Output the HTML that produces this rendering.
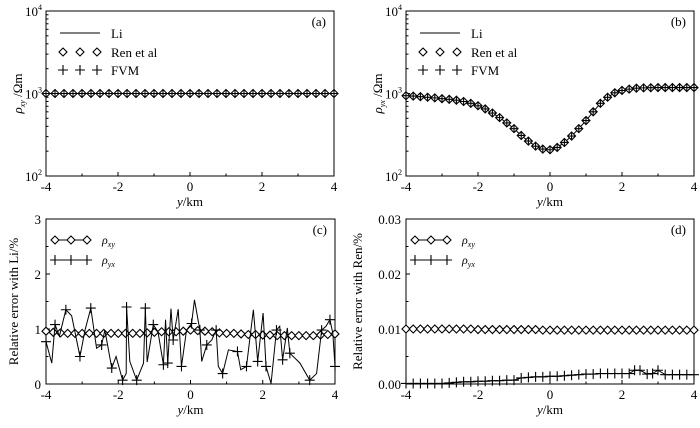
<!DOCTYPE html>
<html><head><meta charset="utf-8">
<style>
html,body{margin:0;padding:0;background:#fff;}
svg, svg text{font-family:"Liberation Serif","DejaVu Serif",serif;}
text{fill:#000;}
</style></head>
<body>
<svg id="fig" width="700" height="423" viewBox="0 0 700 423" xmlns="http://www.w3.org/2000/svg" font-family="Liberation Serif, DejaVu Serif, serif"></svg>
<script>
// ---------- data ----------
const xA = [];
for (let i = 0; i <= 32; i++) xA.push(-4 + i * 0.25);
const rhoXyA = [1000,1000,1000,1000,1000,1000,1000,1000,1000,1000,1000,1000,1000,1000,1000,1000,1000,1000,1000,1000,1000,1000,1000,1000,1000,1000,1000,1000,1000,1000,1000,1000,1000];

const xB = [-4,-3.8,-3.6,-3.4,-3.2,-3,-2.8,-2.6,-2.4,-2.2,-2,-1.8,-1.6,-1.4,-1.2,-1,-0.8,-0.6,-0.4,-0.2,0,0.2,0.4,0.6,0.8,1,1.2,1.4,1.6,1.8,2,2.2,2.4,2.6,2.8,3,3.2,3.4,3.6,3.8,4];
const rhoYxB = [940,930,915,900,885,865,850,830,800,760,710,650,580,510,440,375,310,265,230,212,208,222,255,305,375,470,600,760,900,1020,1090,1130,1160,1170,1175,1180,1180,1180,1180,1180,1180];

const xCyx = [-4,-3.84,-3.75,-3.63,-3.45,-3.29,-3.06,-2.92,-2.76,-2.6,-2.46,-2.37,-2.18,-2.06,-1.88,-1.78,-1.77,-1.68,-1.49,-1.3,-1.25,-1.2,-1.03,-0.9,-0.75,-0.69,-0.63,-0.54,-0.48,-0.34,-0.25,-0.11,0.03,0.11,0.26,0.31,0.45,0.59,0.71,0.77,0.89,1.05,1.3,1.39,1.55,1.74,1.86,2.01,2.09,2.23,2.38,2.47,2.55,2.68,2.75,3.03,3.3,3.49,3.63,3.75,3.86,3.94,4];
const errYxC = [0.77,0.38,1.08,0.87,1.35,1.24,0.5,0.98,1.38,0.65,0.71,0.98,0.29,0.5,0.07,0.19,1.4,0.41,0.07,0.38,1.38,0.4,1.08,0.95,0.35,1.17,0.38,1.37,0.8,1.36,0.32,0.98,1.1,1.53,0.98,0.41,0.71,0.8,0.98,0.32,0.19,0.62,0.59,0.26,0.32,1.35,0.41,1.29,0.32,0.01,0.98,1.05,0.44,1.02,0.56,0.38,0.07,0.19,0.98,1.05,1.17,0.92,0.32];
const xCxy = [-4,-3.8,-3.6,-3.4,-3.2,-3,-2.8,-2.6,-2.4,-2.2,-2,-1.8,-1.6,-1.4,-1.2,-1,-0.8,-0.6,-0.4,-0.2,0,0.2,0.4,0.6,0.8,1,1.2,1.4,1.6,1.8,2,2.2,2.4,2.6,2.8,3,3.2,3.4,3.6,3.8,4];
const errXyC = [0.96,0.94,0.93,0.92,0.92,0.92,0.92,0.92,0.92,0.92,0.92,0.92,0.92,0.92,0.93,0.94,0.95,0.95,0.95,0.96,0.98,0.97,0.96,0.95,0.93,0.92,0.92,0.91,0.9,0.9,0.89,0.89,0.88,0.88,0.88,0.88,0.88,0.88,0.89,0.9,0.91];

const xDxy = [-4,-3.8,-3.6,-3.4,-3.2,-3,-2.8,-2.6,-2.4,-2.2,-2,-1.8,-1.6,-1.4,-1.2,-1,-0.8,-0.6,-0.4,-0.2,0,0.2,0.4,0.6,0.8,1,1.2,1.4,1.6,1.8,2,2.2,2.4,2.6,2.8,3,3.2,3.4,3.6,3.8,4];
const errXyD = [0.0100,0.0100,0.0100,0.0100,0.0100,0.0100,0.0100,0.0100,0.0100,0.0100,0.0099,0.0099,0.0099,0.0099,0.0099,0.0099,0.0099,0.0099,0.0099,0.0098,0.0098,0.0098,0.0098,0.0098,0.0098,0.0098,0.0098,0.0098,0.0098,0.0098,0.0098,0.0098,0.0098,0.0098,0.0098,0.0098,0.0098,0.0098,0.0098,0.0098,0.0098];
const xD = [-4,-3.8,-3.6,-3.4,-3.2,-3,-2.8,-2.6,-2.4,-2.2,-2,-1.8,-1.6,-1.4,-1.2,-1,-0.8,-0.6,-0.4,-0.2,0,0.2,0.4,0.6,0.8,1,1.2,1.4,1.6,1.8,2,2.2,2.35,2.5,2.7,2.85,3,3.2,3.4,3.6,3.8,4];
const errYxD = [0.0001,0.0001,0.0001,0.0001,0.0001,0.0001,0.0002,0.0003,0.0004,0.0004,0.0005,0.0005,0.0006,0.0006,0.0007,0.0007,0.0011,0.0012,0.0013,0.0013,0.0014,0.0014,0.0015,0.0016,0.0017,0.0018,0.0018,0.0019,0.0019,0.0019,0.0019,0.0019,0.0025,0.0025,0.0018,0.0019,0.0025,0.0017,0.0017,0.0017,0.0017,0.0017];

const xTicks = [-4,-2,0,2,4];
const xTickLabels = ["-4","-2","0","2","4"];

// ---------- helpers ----------
const NS = "http://www.w3.org/2000/svg";
const svg = document.getElementById("fig");
const FF = "Liberation Serif, DejaVu Serif, serif";
function el(tag, attrs, parent) {
  const e = document.createElementNS(NS, tag);
  for (const k in attrs) e.setAttribute(k, attrs[k]);
  if (tag === "text") e.setAttribute("font-family", FF);
  (parent || svg).appendChild(e);
  return e;
}
function diamond(g, cx, cy, r) {
  return el("path", {d:`M${cx} ${cy-r}L${cx+r} ${cy}L${cx} ${cy+r}L${cx-r} ${cy}Z`, fill:"#fff", stroke:"#000", "stroke-width":1.1}, g);
}
function plus(g, cx, cy, r) {
  return el("path", {d:`M${cx-r} ${cy}H${cx+r}M${cx} ${cy-r}V${cy+r}`, stroke:"#000", "stroke-width":1.1, fill:"none"}, g);
}

function panel(p) {
  const g = el("g", {});
  
  
  const X = v => p.x0 + (v + 4) / 8 * (p.x1 - p.x0);
  const Y = p.log
    ? v => p.y1 - (Math.log10(v) - 2) / 2 * (p.y1 - p.y0)
    : v => p.y1 - v / p.ymax * (p.y1 - p.y0);
  p.X = X; p.Y = Y; p.g = g;
  const fr = el("rect", {x:p.x0, y:p.y0, width:p.x1-p.x0, height:p.y1-p.y0, fill:"none", stroke:"#000", "stroke-width":1}, g);
  
  
  for (let v = -4; v <= 4; v++) {
    const len = v % 2 === 0 ? 4 : 2.5;
    el("line", {x1:X(v), x2:X(v), y1:p.y1, y2:p.y1-len, stroke:"#000", "stroke-width":1}, g);
  }
  xTicks.forEach((v, i) => {
    const t = el("text", {x:X(v), y:p.y1+15, "font-size":13, "text-anchor":"middle"}, g);
    t.textContent = xTickLabels[i];
    
    
  });
  const xt = el("text", {x:(p.x0+p.x1)/2, y:p.y1+30, "font-size":13, "text-anchor":"middle"}, g);
  xt.innerHTML = '<tspan font-style="italic">y</tspan>/km';
  
  
  if (p.log) {
    [2,3,4].forEach(e => {
      const yy = Y(Math.pow(10, e));
      el("line", {x1:p.x0, x2:p.x0+4, y1:yy, y2:yy, stroke:"#000"}, g);
      const t = el("text", {x:p.x0-4, y:yy+5, "font-size":13, "text-anchor":"end"}, g);
      t.innerHTML = '10<tspan font-size="8" dy="-6">' + e + '</tspan>';
      
      
    });
    [100,1000].forEach(b => { for (let m = 2; m <= 9; m++) {
      const yy = Y(b*m);
      el("line", {x1:p.x0, x2:p.x0+2.5, y1:yy, y2:yy, stroke:"#000"}, g);
    }});
  } else {
    p.yTicks.forEach((v, i) => {
      const yy = Y(v);
      el("line", {x1:p.x0, x2:p.x0+4, y1:yy, y2:yy, stroke:"#000"}, g);
      const t = el("text", {x:p.x0-5, y:yy+5, "font-size":13, "text-anchor":"end"}, g);
      t.textContent = p.yLabels[i];
      
      
      if (i < p.yTicks.length - 1) {
        const ym = Y((v + p.yTicks[i+1]) / 2);
        el("line", {x1:p.x0, x2:p.x0+2.5, y1:ym, y2:ym, stroke:"#000"}, g);
      }
    });
  }
  const yt = el("text", {x:0, y:0, "font-size":13, "text-anchor":"middle", transform:`translate(${p.ytx},${(p.y0+p.y1)/2}) rotate(-90)`}, g);
  yt.innerHTML = p.ytitle;
  
  
  const pl = el("text", {x:p.x1-8, y:p.y0+15, "font-size":13, "text-anchor":"end"}, g);
  pl.textContent = p.label;
  
  
  return p;
}
function line(p, xs, ys, name) {
  const d = xs.map((x, i) => (i ? "L" : "M") + p.X(x).toFixed(2) + " " + p.Y(ys[i]).toFixed(2)).join("");
  const l = el("path", {d, fill:"none", stroke:"#000", "stroke-width":1}, p.g);
  
  
}
function markers(p, xs, ys, kind, name, r) {
  const g = el("g", {}, p.g);
  
  
  xs.forEach((x, i) => {
    const m = kind === "d" ? diamond(g, p.X(x), p.Y(ys[i]), r) : plus(g, p.X(x), p.Y(ys[i]), r);
    
    
  });
}
function legend3(p) {
  const g = el("g", {}, p.g);
  
  
  const lx = p.x0 + 14;
  el("line", {x1:lx, x2:lx+40, y1:p.y0+22, y2:p.y0+22, stroke:"#000"}, g);
  [0,1,2].forEach(k => { diamond(g, lx+3+k*17, p.y0+41, 4); plus(g, lx+3+k*17, p.y0+59, 5); });
  [["Li",22],["Ren et al",41],["FVM",59]].forEach(([t, dy]) => {
    const tx = el("text", {x:lx+51, y:p.y0+dy+5, "font-size":13}, g);
    tx.textContent = t;
    
    
  });
}
function legend2(p) {
  const g = el("g", {}, p.g);
  
  
  const lx = p.x0 + 6, y1 = p.y0 + 21, y2 = p.y0 + 41;
  el("line", {x1:lx, x2:lx+38, y1:y1, y2:y1, stroke:"#000"}, g);
  el("line", {x1:lx, x2:lx+38, y1:y2, y2:y2, stroke:"#000"}, g);
  [0,1,2].forEach(k => { diamond(g, lx+3+k*16, y1, 4); plus(g, lx+3+k*16, y2, 5); });
  [["xy",y1],["yx",y2]].forEach(([s, yy]) => {
    const tx = el("text", {x:lx+50, y:yy+4, "font-size":12}, g);
    tx.innerHTML = '<tspan font-style="italic">ρ</tspan><tspan font-size="8" dy="3" font-style="italic">' + s + '</tspan>';
    
    
  });
}

// ---------- panels ----------
const pa = panel({name:"panel-a", x0:46, x1:334, y0:11, y1:176, log:true, ytx:22, label:"(a)",
  ytitle:'<tspan font-style="italic">ρ</tspan><tspan font-size="8" dy="3" font-style="italic">xy</tspan><tspan dy="-3"> /Ωm</tspan>'});
line(pa, xA, rhoXyA, "li-line");
markers(pa, xA, rhoXyA, "d", "ren-markers", 4);
markers(pa, xA, rhoXyA, "p", "fvm-markers", 3.5);
legend3(pa);

const pb = panel({name:"panel-b", x0:406, x1:694, y0:11, y1:176, log:true, ytx:382, label:"(b)",
  ytitle:'<tspan font-style="italic">ρ</tspan><tspan font-size="8" dy="3" font-style="italic">yx</tspan><tspan dy="-3"> /Ωm</tspan>'});
line(pb, xB, rhoYxB, "li-line");
markers(pb, xB, rhoYxB, "d", "ren-markers", 4);
markers(pb, xB, rhoYxB, "p", "fvm-markers", 3.5);
legend3(pb);

const pc = panel({name:"panel-c", x0:46, x1:335, y0:219, y1:384, log:false, ymax:3, yTicks:[0,1,2,3], yLabels:["0","1","2","3"], ytx:18, label:"(c)",
  ytitle:'Relative error with Li/%'});
line(pc, xCxy, errXyC, "rho-xy-line");
markers(pc, xCxy, errXyC, "d", "rho-xy-markers", 4);
line(pc, xCyx, errYxC, "rho-yx-line");
markers(pc, xCyx.filter((_, i) => i % 2 === 0), errYxC.filter((_, i) => i % 2 === 0), "p", "rho-yx-markers", 5);
legend2(pc);

const pd = panel({name:"panel-d", x0:406, x1:694, y0:219, y1:384, log:false, ymax:0.03, yTicks:[0,0.01,0.02,0.03], yLabels:["0.00","0.01","0.02","0.03"], ytx:362, label:"(d)",
  ytitle:'Relative error with Ren/%'});
line(pd, xDxy, errXyD, "rho-xy-line");
markers(pd, xDxy, errXyD, "d", "rho-xy-markers", 4);
line(pd, xD, errYxD, "rho-yx-line");
markers(pd, xD, errYxD, "p", "rho-yx-markers", 5);
legend2(pd);
</script>
</body></html>
